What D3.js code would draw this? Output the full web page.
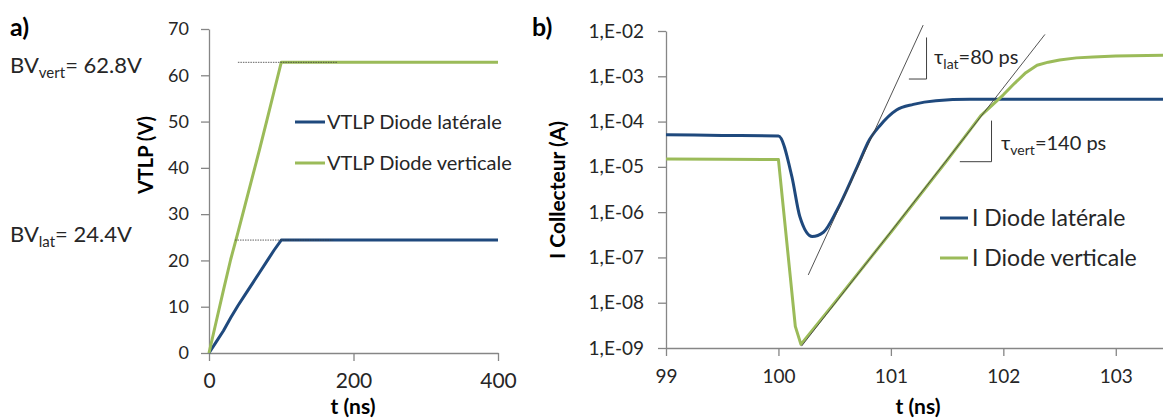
<!DOCTYPE html>
<html><head><meta charset="utf-8">
<script src="https://cdn.jsdelivr.net/npm/d3@7"></script>
<style>
body{margin:0;background:#fff}
text{font-family:Lato,"Open Sans",sans-serif}
</style>
</head><body>
<svg id="c" width="1163" height="419" xmlns="http://www.w3.org/2000/svg"></svg>
<script>
// ---------- Panel a data ----------
const aTime     = [0,10,20,30,40,50,60,70,80,90,100,200,300,400];
const aLateral  = [0,2.4,4.8,7.6,10.2,12.6,15,17.4,19.8,22.2,24.4,24.4,24.4,24.4];
const aVertical = [0,6.8,13.6,20.2,26,32,38,44,50.2,56.5,62.8,62.8,62.8,62.8];
const aYTicks = [0,10,20,30,40,50,60,70];
const aXTicks = [0,200,400];
const aNames = ["VTLP Diode latérale","VTLP Diode verticale"];
const aRefLevel = [24.4, 62.8];
const aRefStart = [36, 40];
const aRefEnd   = [172, 177];

// ---------- Panel b data ----------
const bLatTime    = [99,99.5,100,100.12,100.19,100.3,100.4,100.52,100.7,100.81,100.9,101.05,101.2,101.4,101.7,102,103,103.5];
const bLatCurrent = [5.1e-5,4.95e-5,4.8e-5,6e-6,8e-7,2.9e-7,3.6e-7,1.1e-6,1e-5,4e-5,8e-5,1.8e-4,2.4e-4,2.9e-4,3.1e-4,3.1e-4,3.1e-4,3.1e-4];
const bVertTime    = [99,99.5,100,100.15,100.2,100.5,101,101.5,101.8,102,102.1,102.2,102.3,102.4,102.5,102.65,102.8,103,103.5];
const bVertCurrent = [1.5e-5,1.48e-5,1.45e-5,3e-9,1.2e-9,1e-8,3.6e-7,1.4e-5,1.35e-4,3.9e-4,7e-4,1.2e-3,1.75e-3,2.05e-3,2.3e-3,2.55e-3,2.67e-3,2.8e-3,2.95e-3];
const bYTicks = [1e-9,1e-8,1e-7,1e-6,1e-5,1e-4,1e-3,1e-2];
const bYLabels = ["1,E-09","1,E-08","1,E-07","1,E-06","1,E-05","1,E-04","1,E-03","1,E-02"];
const bXTicks = [99,100,101,102,103];
const bNames = ["I Diode latérale","I Diode verticale"];
// tangent lines [t0, I0, t1, I1]
const bTanLat  = [100.265, 4.1e-8, 101.287, 1.35e-2];
const bTanVert = [100.206, 1.1e-9, 102.37, 8.4e-3];
// slope marks: [tVertical, Itop, Ibottom, tLeft]
const bMarkLat  = [101.317, 7.2e-3, 8.7e-4, 101.16];
const bMarkVert = [101.895, 1.05e-4, 1.3e-5, 101.613];

const BLUE = "#1F497D", GREEN = "#9BBB59", AXIS = "#868686", TXT = "#262626";

const svg = d3.select("#c");
svg.append("rect").attr("width",1163).attr("height",419).attr("fill","#fff");

function styleAxis(g, fs){
  g.select(".domain").attr("stroke",AXIS).attr("stroke-width",1.3);
  g.selectAll(".tick line").attr("stroke",AXIS).attr("stroke-width",1.3);
  g.selectAll(".tick text").attr("fill",TXT).style("font-size",fs+"px").style("font-family","Lato");
}

// ================= Panel a =================
const ax = d3.scaleLinear([0,400],[209,498]);
const ay = d3.scaleLinear([0,70],[353,29]);

const gaY = svg.append("g").attr("transform","translate(209,0)")
  .call(d3.axisLeft(ay).tickValues(aYTicks).tickSize(8).tickSizeOuter(0).tickPadding(12).tickFormat(d3.format("d")));
styleAxis(gaY,18);
const gaX = svg.append("g").attr("transform","translate(0,353)")
  .call(d3.axisBottom(ax).tickValues(aXTicks).tickSize(8).tickSizeOuter(0).tickPadding(12).tickFormat(d3.format("d")));
styleAxis(gaX,21);

const aLine = d3.line().x(d=>ax(d[0])).y(d=>ay(d[1]));
svg.append("path").datum(aTime.map((t,i)=>[t,aLateral[i]]))
  .attr("d",aLine).attr("fill","none").attr("stroke",BLUE).attr("stroke-width",3).attr("stroke-linejoin","round");
svg.append("path").datum(aTime.map((t,i)=>[t,aVertical[i]]))
  .attr("d",aLine).attr("fill","none").attr("stroke",GREEN).attr("stroke-width",3).attr("stroke-linejoin","round");

aRefLevel.forEach((v,i)=>{
  svg.append("line").attr("x1",ax(aRefStart[i])).attr("x2",ax(aRefEnd[i]))
    .attr("y1",ay(v)).attr("y2",ay(v)).attr("stroke","#3a3a3a").attr("stroke-width",0.8)
    .attr("stroke-dasharray","1.5,1");
});

// legend a
[BLUE,GREEN].forEach((c,i)=>{
  const y = [122,163][i];
  svg.append("line").attr("x1",295).attr("x2",325).attr("y1",y).attr("y2",y).attr("stroke",c).attr("stroke-width",3);
  svg.append("text").attr("x",327).attr("y",y).attr("dy","0.35em").attr("fill",TXT)
    .style("font-size","20px").text(aNames[i]);
});

// titles a
svg.append("text").attr("x",10).attr("y",36).style("font-size","25px").style("font-weight","bold").attr("fill","#000").text("a)");
svg.append("text").attr("transform","translate(153,155) rotate(-90)").attr("text-anchor","middle")
  .style("font-size","20px").style("font-weight","bold").attr("fill","#000").text("VTLP (V)");
svg.append("text").attr("x",353).attr("y",414).attr("text-anchor","middle")
  .style("font-size","21px").style("font-weight","bold").attr("fill","#000").text("t (ns)");

function bvLabel(x,y,sub,val){
  const t = svg.append("text").attr("x",x).attr("y",y).attr("fill",TXT).style("font-size","22px");
  t.append("tspan").text("BV");
  t.append("tspan").attr("dy",5).style("font-size","15px").text(sub);
  t.append("tspan").attr("dy",-5).text("= "+val);
}
bvLabel(10,73,"vert","62.8V");
bvLabel(10,242,"lat","24.4V");

// ================= Panel b =================
const bx = d3.scaleLinear([99,103.5],[666,1172]);
const by = d3.scaleLog([1e-9,1e-2],[348,31]);

const gbY = svg.append("g").attr("transform","translate(666,0)")
  .call(d3.axisLeft(by).tickValues(bYTicks).tickSize(8).tickSizeOuter(0).tickPadding(14)
    .tickFormat((d,i)=>bYLabels[i]));
styleAxis(gbY,19);
const gbX = svg.append("g").attr("transform","translate(0,348)")
  .call(d3.axisBottom(bx).tickValues(bXTicks).tickSize(8).tickSizeOuter(0).tickPadding(14).tickFormat(d3.format("d")));
styleAxis(gbX,19);

const bLineLat  = d3.line().x(d=>bx(d[0])).y(d=>by(d[1])).curve(d3.curveMonotoneX);
const bLineVert = d3.line().x(d=>bx(d[0])).y(d=>by(d[1])).curve(d3.curveLinear);
svg.append("path").datum(bLatTime.map((t,i)=>[t,bLatCurrent[i]]))
  .attr("d",bLineLat).attr("fill","none").attr("stroke",BLUE).attr("stroke-width",3).attr("stroke-linejoin","round");
svg.append("path").datum(bVertTime.map((t,i)=>[t,bVertCurrent[i]]))
  .attr("d",bLineVert).attr("fill","none").attr("stroke",GREEN).attr("stroke-width",3).attr("stroke-linejoin","round");

[bTanLat,bTanVert].forEach(tn=>{
  svg.append("line").attr("x1",bx(tn[0])).attr("y1",by(tn[1])).attr("x2",bx(tn[2])).attr("y2",by(tn[3]))
    .attr("stroke","#404040").attr("stroke-width",0.9);
});
[bMarkLat,bMarkVert].forEach(m=>{
  svg.append("path").attr("d",`M${bx(m[0])},${by(m[1])}L${bx(m[0])},${by(m[2])}L${bx(m[3])},${by(m[2])}`)
    .attr("fill","none").attr("stroke","#404040").attr("stroke-width",1);
});
function tauLabel(x,y,sub,val){
  const t = svg.append("text").attr("x",x).attr("y",y).attr("fill",TXT).style("font-size","20px");
  t.append("tspan").text("τ");
  t.append("tspan").attr("dy",5).style("font-size","14px").text(sub);
  t.append("tspan").attr("dy",-5).text(val);
}
tauLabel(934,64,"lat","=80 ps");
tauLabel(1001,150,"vert","=140 ps");

// legend b
[BLUE,GREEN].forEach((c,i)=>{
  const y = [218,258][i];
  svg.append("line").attr("x1",940).attr("x2",968).attr("y1",y).attr("y2",y).attr("stroke",c).attr("stroke-width",3);
  svg.append("text").attr("x",972).attr("y",y).attr("dy","0.35em").attr("fill",TXT)
    .style("font-size","23px").text(bNames[i]);
});

svg.append("text").attr("x",532).attr("y",36).style("font-size","25px").style("font-weight","bold").attr("fill","#000").text("b)");
svg.append("text").attr("transform","translate(565,190) rotate(-90)").attr("text-anchor","middle")
  .style("font-size","21px").style("font-weight","bold").attr("fill","#000").text("I Collecteur (A)");
svg.append("text").attr("x",918).attr("y",414).attr("text-anchor","middle")
  .style("font-size","21px").style("font-weight","bold").attr("fill","#000").text("t (ns)");
</script>
</body></html>
